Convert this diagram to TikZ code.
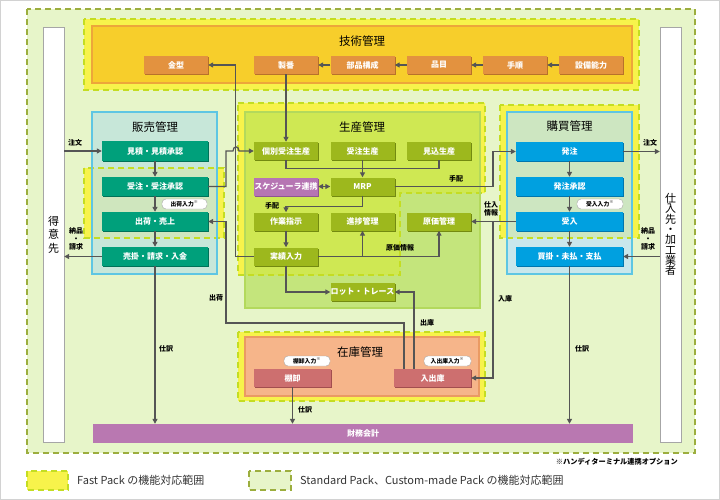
\documentclass[tikz,border=0pt]{standalone}
\usepackage{fontspec}
\setmainfont{Noto Sans CJK JP}
\usepackage{tikz}
\usetikzlibrary{calc}
\usetikzlibrary{arrows.meta}
\usetikzlibrary{shadows}

\definecolor{stdfill}{HTML}{E7F5C9}
\definecolor{stdline}{HTML}{9CAE3E}
\definecolor{fastfill}{HTML}{F7F34B}
\definecolor{fastline}{HTML}{C4DD22}
\definecolor{techfill}{HTML}{F7CE2B}
\definecolor{techline}{HTML}{EDA63A}
\definecolor{techbox}{HTML}{E3923F}
\definecolor{techdark}{HTML}{B8712A}
\definecolor{salesfill}{HTML}{C7E7D9}
\definecolor{salesfast}{HTML}{CFE6BE}
\definecolor{cyanline}{HTML}{5EC6E3}
\definecolor{buyfill}{HTML}{C9E7EC}
\definecolor{buyfast}{HTML}{CDE6C1}
\definecolor{prodfill}{HTML}{C4E57C}
\definecolor{prodfast}{HTML}{CFE853}
\definecolor{prodline}{HTML}{B3D95C}
\definecolor{olive}{HTML}{9DB81D}
\definecolor{olivedark}{HTML}{738A10}
\definecolor{plum}{HTML}{B675B3}
\definecolor{plumdark}{HTML}{8E5590}
\definecolor{teal}{HTML}{00A07B}
\definecolor{tealdark}{HTML}{007258}
\definecolor{sky}{HTML}{00A0E0}
\definecolor{skydark}{HTML}{0076AE}
\definecolor{stockfill}{HTML}{F6B58A}
\definecolor{stockline}{HTML}{EA9A63}
\definecolor{brick}{HTML}{CD6F6F}
\definecolor{brickdark}{HTML}{A24E4E}
\definecolor{finance}{HTML}{B978B1}
\definecolor{wire}{HTML}{555555}

\tikzset{
  stdarea/.style={fill=stdfill, draw=stdline, line width=2pt, dash pattern=on 6pt off 4pt},
  fastdash/.style={draw=fastline, line width=2pt, dash pattern=on 6pt off 4pt},
  fastarea/.style={fill=fastfill, fastdash},
  box/.style={minimum height=18pt, inner sep=0pt, text=white, font=\fontsize{8}{9}\selectfont\bfseries},
  techb/.style={box, minimum width=64pt, fill=techbox, drop shadow={shadow xshift=1pt, shadow yshift=-1pt, opacity=1, fill=techdark}},
  prodb/.style={box, minimum width=64pt, fill=olive, drop shadow={shadow xshift=1pt, shadow yshift=-1pt, opacity=1, fill=olivedark}},
  salesb/.style={box, minimum width=106pt, minimum height=19pt, fill=teal, drop shadow={shadow xshift=1pt, shadow yshift=-1pt, opacity=1, fill=tealdark}},
  buyb/.style={box, minimum width=107pt, minimum height=19pt, fill=sky, drop shadow={shadow xshift=1pt, shadow yshift=-1pt, opacity=1, fill=skydark}},
  stockb/.style={box, minimum width=77pt, fill=brick, drop shadow={shadow xshift=1pt, shadow yshift=-1pt, opacity=1, fill=brickdark}},
  ttl/.style={font=\fontsize{11.5}{12}\selectfont},
  lbl/.style={inner sep=0pt, font=\fontsize{7}{8}\selectfont\bfseries, align=center},
  bubble/.style={draw=gray!70, fill=white, rounded corners=4pt, inner sep=0pt, minimum height=10pt, font=\fontsize{5.8}{6}\selectfont\bfseries},
  column/.style={draw=gray!70, fill=white, minimum width=21pt, minimum height=415pt, inner sep=0pt, align=center},
  arr/.style={draw=wire, line width=1.2pt, -{Triangle[length=5pt,width=5pt]}},
  wireline/.style={draw=wire, line width=1.2pt},
}

\begin{document}
\begin{tikzpicture}[x=1pt,y=-1pt]
\useasboundingbox (0,0) rectangle (720,500);
\draw[gray!35] (0.5,0.5) rectangle (719.5,499.5);

% Standard / Custom-made area
\draw[stdarea] (27,9) rectangle (695,453);

\node[column, font=\fontsize{11}{13.5}\selectfont] (tokui) at (53.5,234.5) {得\\意\\先};
\node[column, font=\fontsize{11}{10.3}\selectfont] (shiire) at (670.5,234.5) {仕\\入\\先\\・\\加\\工\\業\\者};

% 技術管理
\draw[fastarea] (84,19) rectangle (639,90);
\draw[fill=techfill, draw=techline, line width=2pt] (92,26) rectangle (632,83);
\node[ttl] (techttl) at (362,41) {技術管理};
\node[techb] (kanagata) at (176,65) {金型};
\node[techb] (seiban) at (286,65) {製番};
\node[techb] (buhin) at (362.5,65) {部品構成};
\node[techb] (hinmoku) at (439,65) {品目};
\node[techb] (tejun) at (515,65) {手順};
\node[techb] (setsubi) at (591,65) {設備能力};

% 販売管理
\fill[fastfill] (84,168) rectangle (224,238);
\fill[salesfill] (92,112) rectangle (217,274);
\fill[salesfast] (92,168) rectangle (217,238);
\draw[fastdash] (84,168) rectangle (224,238);
\draw[cyanline, line width=1.5pt] (92,112) rectangle (217,274);
\node[ttl] (salesttl) at (155,127) {販売管理};
\node[salesb] (mitsumori) at (155,151) {見積・見積承認};
\node[salesb] (juchu) at (155,186.5) {受注・受注承認};
\node[salesb] (shukka) at (155,221.5) {出荷・売上};
\node[salesb] (urikake) at (155,256.5) {売掛・請求・入金};

% 生産管理
\fill[fastfill] (238,103) -- (485,103) -- (485,193) -- (400,193) -- (400,275) -- (238,275) -- cycle;
\fill[prodfill] (245,112) rectangle (480,308);
\begin{scope}
  \clip (245,112) rectangle (480,308);
  \fill[prodfast] (238,103) -- (485,103) -- (485,193) -- (400,193) -- (400,275) -- (238,275) -- cycle;
\end{scope}
\draw[fastdash] (238,103) -- (485,103) -- (485,193) -- (400,193) -- (400,275) -- (238,275) -- cycle;
\draw[prodline, line width=1.5pt] (245,112) rectangle (480,308);
\node[ttl] (prodttl) at (362,127) {生産管理};
\node[prodb] (kobetsu) at (286,151) {個別受注生産};
\node[prodb] (juchusei) at (362.5,151) {受注生産};
\node[prodb] (mikomi) at (439,151) {見込生産};
\node[prodb, fill=plum, drop shadow={shadow xshift=1pt, shadow yshift=-1pt, opacity=1, fill=plumdark}] (sched) at (286,186.5) {スケジューラ連携};
\node[prodb] (mrp) at (362.5,186.5) {MRP};
\node[prodb] (sagyo) at (286,221.5) {作業指示};
\node[prodb] (shinchoku) at (362.5,221.5) {進捗管理};
\node[prodb] (genka) at (439,221.5) {原価管理};
\node[prodb] (jisseki) at (286,256.5) {実績入力};
\node[prodb] (lot) at (362.5,292) {ロット・トレース};

% 購買管理
\fill[fastfill] (500,105) rectangle (639,238);
\fill[buyfill] (507,112) rectangle (632,274);
\fill[buyfast] (507,112) rectangle (632,238);
\draw[fastdash] (500,105) rectangle (639,238);
\draw[cyanline, line width=1.5pt] (507,112) rectangle (632,274);
\node[ttl] (buyttl) at (569.5,126) {購買管理};
\node[buyb] (hatchu) at (569.5,151.5) {発注};
\node[buyb] (shonin) at (569.5,186.5) {発注承認};
\node[buyb] (ukeire) at (569.5,221.5) {受入};
\node[buyb] (kaikake) at (569.5,256.5) {買掛・未払・支払};

% 在庫管理
\draw[fastarea] (238,332) rectangle (485,401);
\draw[fill=stockfill, draw=stockline, line width=2pt] (245,337) rectangle (479,396);
\node[ttl] (stockttl) at (360,352) {在庫管理};
\node[stockb] (tanaoroshi) at (292.5,378) {棚卸};
\node[stockb] (nyushukko) at (432.5,378) {入出庫};

% 財務会計
\node[box, minimum width=540pt, minimum height=19pt, fill=finance] (zaimu) at (363,433.5) {財務会計};

% bubbles
\node[bubble, minimum width=45pt] (shukkain) at (184.5,204) {出荷入力\textsuperscript{※}};
\node[bubble, minimum width=46pt] (ukeirein) at (600,204) {受入入力\textsuperscript{※}};
\node[bubble, minimum width=46pt] (tanain) at (307,361) {棚卸入力\textsuperscript{※}};
\node[bubble, minimum width=47pt] (nyuin) at (447.5,361) {入出庫入力\textsuperscript{※}};

% 技術管理 arrows
\draw[arr] (setsubi) -- (tejun);
\draw[arr] (tejun) -- (hinmoku);
\draw[arr] (hinmoku) -- (buhin);
\draw[arr] (buhin) -- (seiban);
\draw[arr] (seiban) -- (kobetsu);

% 販売管理 arrows
\draw[arr] (tokui.east |- mitsumori) -- (mitsumori);
\draw[arr] (mitsumori) -- (juchu);
\draw[arr] (juchu) -- (shukka);
\draw[arr] (shukka) -- (urikake);
\draw[arr] (urikake) -- (tokui.east |- urikake);
\draw[arr] (urikake) -- (urikake |- zaimu.north);
\draw[arr] (juchu.east) -- (226,186.5) -- (226,151) -- (233,151)
  .. controls (233,145.5) and (239,145.5) .. (239,151) -- (kobetsu.west);
\node[lbl] (chumon1) at (75,143) {注文};
\node[lbl] (nohin1) at (76,239) {納品\\・\\請求};
\node[lbl] (shiwake1) at (166,349) {仕訳};

% 生産管理 arrows
\draw[wireline] (kobetsu.south) -- ++(0,8) -| (mikomi.south);
\draw[arr] (juchusei) -- (mrp);
\draw[draw=wire, line width=1.2pt, {Triangle[length=5pt,width=5pt]}-{Triangle[length=5pt,width=5pt]}] (sched) -- (mrp);
\draw[arr] (mrp.south) -- ++(0,11) -| (sagyo.north);
\draw[arr] (sagyo) -- (jisseki);
\draw[arr] (jisseki.east) -| (genka.south);
\draw[arr] (shinchoku.south |- jisseki) -- (shinchoku.south);
\draw[arr] (jisseki.south) |- (lot.west);
\draw[arr] (jisseki.west) -- ++(-18,0) |- (kanagata.east);
\draw[arr] (mrp.east) -- (493,186.5) |- (hatchu.west);
\node[lbl] (tehai1) at (456,179) {手配};
\node[lbl] (tehai2) at (272,206) {手配};
\node[lbl] (genkajoho) at (400,248) {原価情報};

% 購買管理 arrows
\draw[arr] (hatchu) -- (shonin);
\draw[arr] (shonin) -- (ukeire);
\draw[arr] (ukeire) -- (kaikake);
\draw[arr] (hatchu.east) -- (shiire.west |- hatchu);
\draw[arr] (shiire.west |- kaikake) -- (kaikake.east);
\draw[arr] (kaikake) -- (kaikake |- zaimu.north);
\draw[arr] (ukeire.west) -- (genka.east);
\draw[arr] (493,221.5) |- (nyushukko.east);
\node[lbl] (chumon2) at (650,143) {注文};
\node[lbl] (nohin2) at (648,239) {納品\\・\\請求};
\node[lbl] (shiirejoho) at (491,208.5) {仕入\\情報};
\node[lbl] (nyuko) at (505,299) {入庫};
\node[lbl] (shiwake2) at (582,349) {仕訳};

% 在庫管理 arrows
\draw[arr] (tanaoroshi) -- (tanaoroshi |- zaimu.north);
\draw[arr] ($(nyushukko.north)+(-28.5,0)$) |- (226,323) |- (shukka.east);
\draw[arr] ($(nyushukko.north)+(-18.5,0)$) |- (lot.east);
\node[lbl] (shukkalbl) at (216,298) {出荷};
\node[lbl] (shukko) at (427,323) {出庫};
\node[lbl] (shiwake3) at (305,410) {仕訳};

% legend
\node[lbl, anchor=east, font=\fontsize{7.2}{8}\selectfont\bfseries] (note) at (678,462) {※ハンディターミナル連携オプション};
\draw[fastarea] (27,471) rectangle (68,490);
\node[anchor=west, inner sep=0pt, text=black!80, font=\fontsize{11}{12}\selectfont] (fastlgd) at (77,480.5) {Fast Pack の機能対応範囲};
\draw[stdarea] (249,471) rectangle (291,490);
\node[anchor=west, inner sep=0pt, text=black!80, font=\fontsize{11}{12}\selectfont] (stdlgd) at (300,480.5) {Standard Pack、Custom-made Pack の機能対応範囲};
\end{tikzpicture}
\end{document}
